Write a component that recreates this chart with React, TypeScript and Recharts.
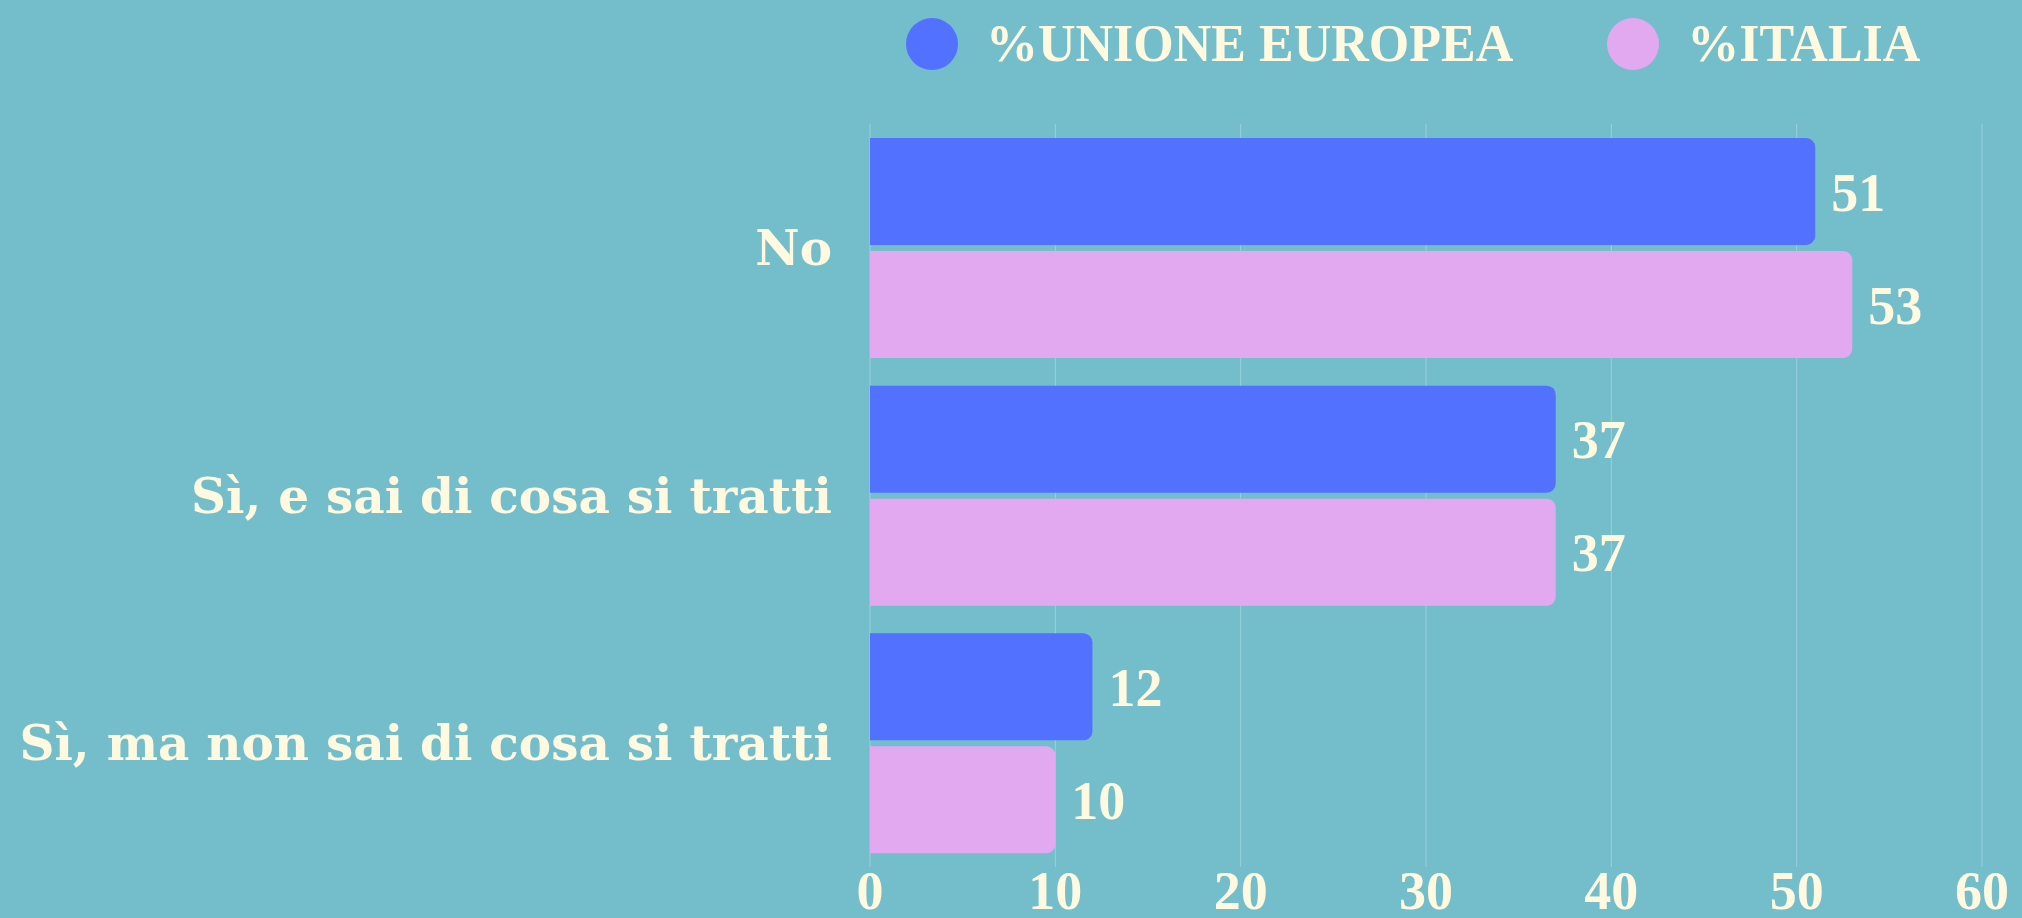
import { BarChart, Bar, XAxis, YAxis, CartesianGrid, LabelList } from "recharts";

const categories = ["No", "Sì, e sai di cosa si tratti", "Sì, ma non sai di cosa si tratti"];
const unioneEuropea = [51, 37, 12];
const italia = [53, 37, 10];
const xTicks = [0, 10, 20, 30, 40, 50, 60];

const BG = "#74BDCB";
const BLUE = "#5271FF";
const PINK = "#E2A9F1";
const CREAM = "#FFF9E0";
const FONT = "'Liberation Serif', serif";
const LABEL_FONT = "'DejaVu Serif', serif";

const data = categories.map((name, i) => ({
  name,
  ue: unioneEuropea[i],
  it: italia[i],
}));

const legendItems = [
  { label: "%UNIONE EUROPEA", color: BLUE },
  { label: "%ITALIA", color: PINK },
];

function ChartLegend() {
  return (
    <div style={{ position: "absolute", top: 18, left: 906, display: "flex", alignItems: "center", gap: 94 }}>
      {legendItems.map((item) => (
        <span key={item.label} style={{ display: "flex", alignItems: "center", gap: 28 }}>
          <span style={{ width: 52, height: 52, borderRadius: "50%", background: item.color, display: "inline-block" }} />
          <span style={{ fontFamily: FONT, fontWeight: 700, fontSize: 52, color: CREAM, lineHeight: 1 }}>
            {item.label}
          </span>
        </span>
      ))}
    </div>
  );
}

export default function App() {
  const numStyle = { fontFamily: FONT, fontWeight: 700, fontSize: 54, fill: CREAM };
  const catStyle = { fontFamily: LABEL_FONT, fontWeight: 700, fontSize: 48.5, fill: CREAM };
  return (
    <div style={{ position: "fixed", left: 0, top: 0, width: 2022, height: 918, background: BG }}>
      <BarChart
        width={2022}
        height={918}
        data={data}
        layout="vertical"
        margin={{ top: 124, right: 40, bottom: 0, left: 0 }}
        barGap={6}
        barSize={107}
      >
        <CartesianGrid horizontal={false} stroke="#9ad0da" strokeWidth={1} />
        <XAxis
          type="number"
          domain={[0, 60]}
          ticks={xTicks}
          height={51}
          axisLine={false}
          tickLine={false}
          tickSize={0}
          tickMargin={4}
          tick={numStyle}
        />
        <YAxis
          type="category"
          dataKey="name"
          width={870}
          axisLine={false}
          tickLine={false}
          tickSize={0}
          tickMargin={38}
          tick={catStyle}
        />
        <Bar dataKey="ue" fill={BLUE} radius={[0, 9, 9, 0]} isAnimationActive={false}>
          <LabelList dataKey="ue" position="right" offset={16} style={numStyle} />
        </Bar>
        <Bar dataKey="it" fill={PINK} radius={[0, 9, 9, 0]} isAnimationActive={false}>
          <LabelList dataKey="it" position="right" offset={16} style={numStyle} />
        </Bar>
      </BarChart>
      <ChartLegend />
    </div>
  );
}
